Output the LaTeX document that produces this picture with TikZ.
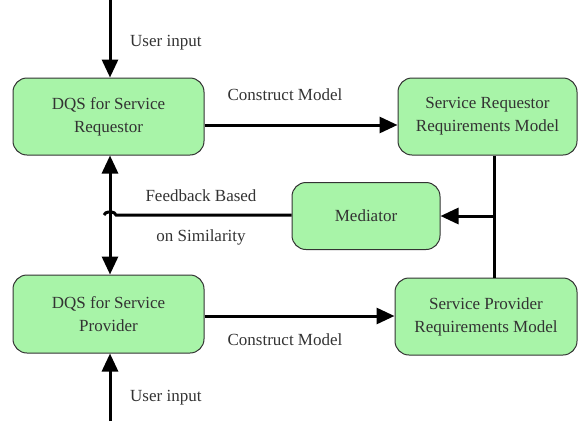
\documentclass[tikz,border=0pt]{standalone}
\usepackage{fontspec}
\setmainfont{Liberation Serif}
\usetikzlibrary{arrows.meta}
\definecolor{boxgreen}{HTML}{A8F4A8}
\definecolor{txtgray}{HTML}{333333}
\begin{document}
\begin{tikzpicture}[x=1pt,y=-1pt,
  blk/.style={draw=black!80,line width=1pt,fill=boxgreen,rounded corners=14pt,align=center,font=\fontsize{17}{23}\selectfont,text=txtgray,inner sep=0pt},
  conn/.style={line width=3pt,-{Triangle[length=18pt,width=16pt]}},
  plain/.style={line width=3pt},
  lbl/.style={font=\fontsize{17}{20}\selectfont,text=txtgray,inner sep=0pt}]
\useasboundingbox (0,0) rectangle (579,421);
\node[blk,minimum width=191pt,minimum height=77pt] (dqsr) at (108.5,116.5) {DQS for Service\\Requestor};
\node[blk,minimum width=191pt,minimum height=78pt] (dqsp) at (108.5,314) {DQS for Service\\Provider};
\node[blk,minimum width=179pt,minimum height=77pt] (srrm) at (487.5,116.5) {Service Requestor\\Requirements Model};
\node[blk,minimum width=182pt,minimum height=77pt] (sprm) at (486,316.5) {Service Provider\\Requirements Model};
\node[blk,minimum width=148pt,minimum height=67pt] (med) at (366,216) {Mediator};
\coordinate (tin) at (110,0);
\coordinate (bin) at (110,421);
\coordinate (rj) at (494,216);
\coordinate (lj) at (110,215);
% user inputs
\draw[conn] (tin) -- (dqsr.north -| tin);
\node[lbl,anchor=west] (ui1) at (130,43) {User input};
\draw[conn] (bin) -- (dqsp.south -| bin);
\node[lbl,anchor=west] (ui2) at (130,398) {User input};
% construct model
\draw[conn] (dqsr.east |- 0,125) -- (srrm.west |- 0,125);
\node[lbl] (cm1) at (285,95) {Construct Model};
\draw[conn] (dqsp.east |- 0,316) -- (sprm.west |- 0,316);
\node[lbl] (cm2) at (285,340) {Construct Model};
% right loop
\draw[plain] (srrm.south -| rj) -- (sprm.north -| rj);
\draw[conn] (rj) -- (med.east |- rj);
% feedback
\draw[line width=3pt,{Triangle[length=18pt,width=16pt]}-{Triangle[length=18pt,width=16pt]}] (dqsr.south -| lj) -- (dqsp.north -| lj);
\draw[plain] (med.west |- lj) -- (116,215) arc (0:180:6pt and 3pt);
\node[lbl] (fb1) at (201,196) {Feedback Based};
\node[lbl] (fb2) at (201,237) {on Similarity};
\end{tikzpicture}
\end{document}
